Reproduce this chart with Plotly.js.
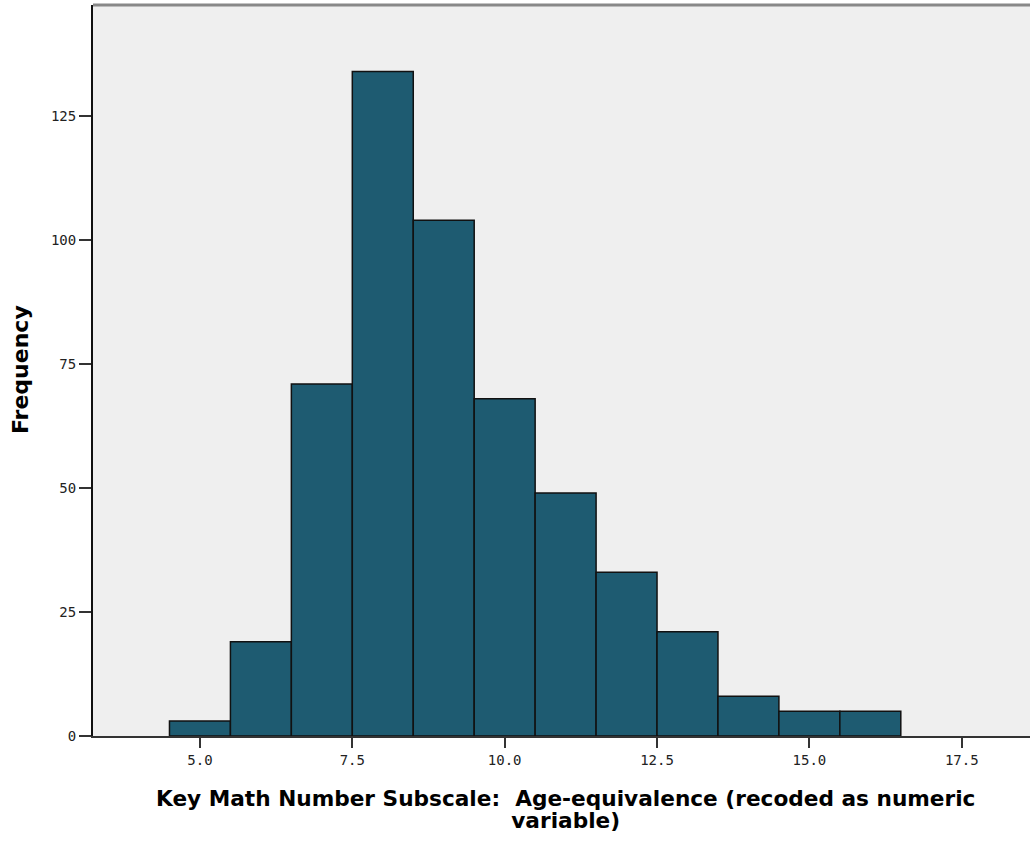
<!DOCTYPE html>
<html>
<head>
<meta charset="utf-8">
<script src="https://cdn.plot.ly/plotly-3.0.1.min.js"></script>
<style>html,body{margin:0;padding:0;background:#fff;}#chart{width:1030px;height:841px;}</style>
</head>
<body>
<div id="chart"></div>
<script>
// Bin centres (bin width 1.0) and frequencies
const binCenters = [5, 6, 7, 8, 9, 10, 11, 12, 13, 14, 15, 16];
const frequencies = [3, 19, 71, 134, 104, 68, 49, 33, 21, 8, 5, 5];
const xTickValues = [5.0, 7.5, 10.0, 12.5, 15.0, 17.5];
const xTickLabels = ["5.0", "7.5", "10.0", "12.5", "15.0", "17.5"];
const yTickValues = [0, 25, 50, 75, 100, 125];
const xTitleLines = ["Key Math Number Subscale:  Age-equivalence (recoded as numeric", "variable)"];
const yTitle = "Frequency";

const titleFamily = "DejaVu Sans";
const tickFont = {family: "DejaVu Sans Mono", size: 14, color: "#222"};

// x title: one text block, tight SPSS-like line spacing (small base font, big spans)
const xTitleText = xTitleLines.map(function (s) {
  return '<span style="font-size:21.65px">' + s + '</span>';
}).join('<br>');

const trace = {
  type: "bar",
  x: binCenters,
  y: frequencies,
  width: 1,
  marker: {color: "#1e5b71", line: {color: "#111111", width: 1.5}},
  hoverinfo: "x+y"
};

const layout = {
  width: 1030,
  height: 841,
  margin: {l: 93, r: 0, t: 5, b: 105},
  paper_bgcolor: "#ffffff",
  plot_bgcolor: "#efefef",
  showlegend: false,
  bargap: 0,
  xaxis: {
    range: [3.245, 18.62],
    tickvals: xTickValues,
    ticktext: xTickLabels,
    ticks: "outside",
    ticklen: 10,
    tickwidth: 2,
    tickcolor: "#333",
    showgrid: false,
    zeroline: false,
    showline: true,
    linecolor: "#333",
    linewidth: 2,
    tickfont: tickFont
  },
  yaxis: {
    range: [0, 147.4],
    tickvals: yTickValues,
    ticks: "outside",
    ticklen: 12,
    tickwidth: 2,
    tickcolor: "#333",
    showgrid: false,
    zeroline: false,
    showline: true,
    linecolor: "#111",
    linewidth: 2,
    tickfont: tickFont
  },
  annotations: [
    {text: xTitleText, xref: "paper", yref: "paper", x: 0.5048, y: -0.1005,
     xanchor: "center", yanchor: "middle", align: "center", showarrow: false,
     borderpad: 0,
     font: {family: titleFamily, size: 16.9, color: "#000", weight: "bold"}},
    {text: yTitle, xref: "paper", yref: "paper", x: -0.0768, y: 0.5007,
     xanchor: "center", yanchor: "middle", textangle: -90, showarrow: false,
     borderpad: 0,
     font: {family: titleFamily, size: 22, color: "#000", weight: "bold"}}
  ],
  shapes: [
    {type: "line", xref: "paper", yref: "paper", x0: 0, x1: 1, y0: 1, y1: 1, line: {color: "#888", width: 3}}
  ]
};

Plotly.newPlot("chart", [trace], layout, {displayModeBar: false, staticPlot: true});
</script>
</body>
</html>
